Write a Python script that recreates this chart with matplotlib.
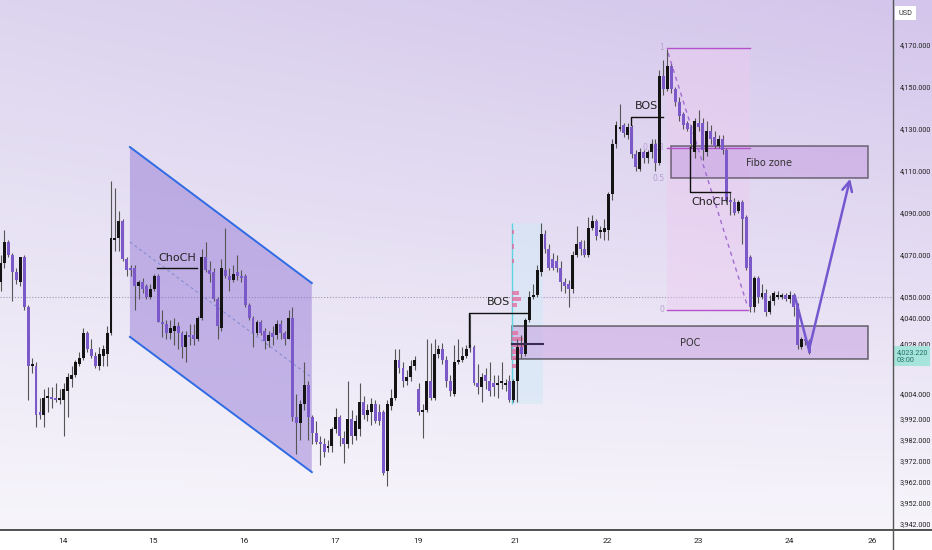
import numpy as np
import matplotlib
matplotlib.use('Agg')
import matplotlib.pyplot as plt
from matplotlib.patches import Polygon, Rectangle
from matplotlib.lines import Line2D
import matplotlib.transforms as mtransforms

#############################################
# hourly candles
opens = [4057, 4066, 4076, 4070, 4062, 4057, 4069, 4045, 4017, 4017,
         3995, 3994, 4002, 4002, 4002, 4001, 4001, 4005, 4011, 4013,
         4018, 4021, 4033, 4025, 4022, 4017, 4022, 4023, 4033, 4077,
         4078, 4086, 4068, 4064, 4064, 4055, 4057, 4055, 4050, 4054,
         4060, 4038, 4037, 4033, 4034, 4036, 4033, 4026, 4032, 4032,
         4030, 4040, 4069, 4063, 4062, 4049, 4035, 4063, 4060, 4058,
         4062, 4060, 4060, 4046, 4040, 4033, 4038, 4034, 4029, 4033,
         4032, 4037, 4033, 4030, 4040, 3993, 3990, 3999, 4008, 3993,
         3985, 3981, 3980, 3978, 3979, 3987, 3993, 3983, 3980, 3992,
         3984, 3987, 4000, 3994, 3995, 3999, 3995, 3995, 3967, 3998,
         4002, 4020, 4016, 4010, 4012, 4017, 4006, 3995, 3996, 4010,
         4002, 4023, 4025, 4020, 4010, 4004, 4019, 4020, 4022, 4026,
         4026, 4009, 4007, 4013, 4010, 4009, 4008, 4009, 4008, 4010,
         4001, 4010, 4026, 4023, 4039, 4050, 4051, 4062, 4080, 4073,
         4068, 4067, 4064, 4057, 4056, 4054, 4070, 4076, 4073, 4070,
         4083, 4086, 4081, 4081, 4082, 4099, 4123, 4130, 4132, 4127,
         4131, 4118, 4111, 4119, 4116, 4119, 4123, 4114, 4155, 4149,
         4160, 4149, 4143, 4137, 4133, 4131, 4119, 4133, 4133, 4119,
         4129, 4126, 4122, 4125, 4120, 4096, 4095, 4091, 4095, 4088,
         4069, 4045, 4059, 4050, 4052, 4043, 4048, 4050, 4050, 4051,
         4049, 4051, 4046, 4026, 4030, 4029]
highs = [4070, 4082, 4077, 4071, 4064, 4069, 4070, 4046, 4021, 4019,
         4002, 4006, 4007, 4007, 4009, 4006, 4009, 4014, 4017, 4020,
         4024, 4035, 4034, 4030, 4024, 4026, 4027, 4036, 4105, 4102,
         4091, 4087, 4069, 4065, 4065, 4058, 4059, 4056, 4056, 4061,
         4061, 4044, 4039, 4039, 4040, 4038, 4034, 4034, 4037, 4037,
         4041, 4073, 4076, 4067, 4064, 4050, 4068, 4083, 4064, 4065,
         4070, 4063, 4061, 4047, 4041, 4039, 4039, 4035, 4034, 4036,
         4039, 4039, 4034, 4044, 4045, 4004, 4001, 4019, 4010, 3994,
         3991, 3984, 3983, 3982, 3988, 3997, 3994, 3986, 4010, 3996,
         3994, 4009, 4003, 3999, 4002, 4001, 3999, 3996, 4001, 4006,
         4025, 4025, 4019, 4015, 4020, 4022, 4009, 3999, 4030, 4028,
         4030, 4027, 4028, 4022, 4013, 4027, 4030, 4026, 4027, 4042,
         4027, 4018, 4014, 4016, 4019, 4013, 4013, 4019, 4011, 4013,
         4011, 4030, 4032, 4040, 4053, 4056, 4065, 4085, 4082, 4075,
         4071, 4070, 4067, 4059, 4058, 4072, 4084, 4077, 4077, 4088,
         4089, 4087, 4084, 4087, 4100, 4125, 4134, 4142, 4133, 4133,
         4132, 4120, 4121, 4120, 4120, 4125, 4125, 4158, 4163, 4168,
         4161, 4150, 4145, 4138, 4134, 4132, 4135, 4139, 4135, 4134,
         4132, 4129, 4127, 4127, 4121, 4100, 4097, 4096, 4096, 4089,
         4070, 4060, 4060, 4056, 4054, 4051, 4053, 4053, 4052, 4052,
         4053, 4052, 4047, 4031, 4031, 4030]
lows = [4053, 4064, 4069, 4048, 4056, 4055, 4044, 4001, 4014, 3988,
        3992, 3988, 3995, 3997, 4000, 3999, 3984, 3993, 4007, 4012,
        4017, 4020, 4024, 4021, 4016, 4015, 4017, 4017, 4032, 4072,
        4072, 4067, 4060, 4060, 4044, 4049, 4052, 4049, 4049, 4053,
        4038, 4031, 4030, 4030, 4027, 4025, 4021, 4019, 4027, 4027,
        4029, 4039, 4062, 4057, 4048, 4030, 4034, 4059, 4053, 4057,
        4058, 4057, 4045, 4039, 4026, 4032, 4032, 4025, 4026, 4027,
        4030, 4030, 4027, 4030, 3991, 3975, 3982, 3996, 3982, 3980,
        3980, 3970, 3974, 3976, 3976, 3985, 3979, 3971, 3978, 3980,
        3982, 3984, 3992, 3991, 3989, 3990, 3989, 3965, 3960, 3996,
        4001, 4014, 4007, 4008, 4010, 4015, 3994, 3983, 3995, 4001,
        4001, 4021, 4018, 4007, 4003, 4003, 4018, 4019, 4021, 4024,
        4008, 4004, 4000, 4006, 4003, 4003, 4002, 4006, 4005, 4000,
        4000, 4000, 4021, 4022, 4038, 4049, 4050, 4060, 4071, 4063,
        4063, 4062, 4053, 4052, 4045, 4052, 4069, 4070, 4069, 4069,
        4082, 4077, 4078, 4077, 4077, 4096, 4121, 4129, 4126, 4125,
        4116, 4110, 4110, 4114, 4114, 4116, 4110, 4113, 4146, 4148,
        4147, 4141, 4134, 4130, 4129, 4121, 4116, 4129, 4115, 4117,
        4123, 4121, 4121, 4118, 4095, 4089, 4089, 4090, 4075, 4063,
        4043, 4043, 4047, 4049, 4041, 4042, 4046, 4049, 4049, 4048,
        4047, 4041, 4025, 4025, 4027, 4023]
closes = [4066, 4076, 4070, 4062, 4058, 4069, 4045, 4017, 4018, 3994,
          3994, 4002, 4002.5, 4001.5, 4001, 4001.5, 4006, 4012, 4013, 4019,
          4021, 4033, 4025, 4022, 4017, 4023, 4025, 4033, 4078, 4078,
          4086, 4068, 4063, 4063, 4055, 4057, 4054, 4050, 4054, 4060,
          4038, 4037, 4033, 4035, 4036, 4033, 4026, 4032, 4031, 4030,
          4040, 4069, 4063, 4061, 4049, 4036, 4064, 4060, 4058, 4061,
          4060, 4059, 4046, 4040, 4033, 4038, 4033, 4029, 4032, 4031,
          4037, 4033, 4030, 4040, 3993, 3990, 3999, 4008, 3993, 3985,
          3981, 3980, 3976, 3979, 3987, 3993, 3984, 3980, 3992, 3984,
          3991, 4000, 3994, 3996, 3999, 3991, 3991, 3966, 3999, 4002,
          4020, 4016, 4010, 4012, 4017, 4020, 3995, 3996, 4010, 4002,
          4023, 4025, 4020, 4010, 4005, 4019, 4020, 4022, 4025, 4027,
          4009, 4007, 4012, 4010, 4005, 4007, 4009, 4010, 4009, 4001,
          4010, 4026, 4023, 4039, 4050, 4051, 4063, 4080, 4073, 4064,
          4064, 4064, 4057, 4055, 4054, 4070, 4075, 4073, 4070, 4083,
          4086, 4079, 4082, 4083, 4099, 4123, 4132, 4131, 4128, 4131,
          4118, 4112, 4119, 4116, 4119, 4123, 4114, 4155, 4149, 4160,
          4149, 4143, 4136, 4132, 4130, 4123, 4134, 4131, 4120, 4129,
          4125, 4122, 4125, 4120, 4096, 4095, 4090, 4095, 4087, 4064,
          4045, 4059, 4050, 4052, 4043, 4048, 4052, 4051, 4051, 4049,
          4051, 4045, 4027, 4030, 4029, 4023.22]

day_pos = [15.8, 38.6, 61.7, 84.8, 105.8, 130.6, 153.7, 176.8, 199.8, 220.9]
day_labels = ['14', '15', '16', '17', '19', '21', '22', '23', '24', '26']
price_ticks = [4170, 4150, 4130, 4110, 4090, 4070, 4050, 4040, 4028,
               4004, 3992, 3982, 3972, 3962, 3952, 3942]
last_price = 4023.22
#############################################

UP = '#141414'
DOWN = '#7b59c9'
TICK_FONT = ['Roboto', 'DejaVu Sans']

fig = plt.figure(figsize=(9.32, 5.5), dpi=100)
fig.patch.set_facecolor('white')

# background gradient (chart + price scale)
bg = fig.add_axes([0, 20 / 550, 1, 530 / 550], zorder=0)
top_l = np.array([221, 213, 239]) / 255.
top_r = np.array([211, 197, 235]) / 255.
bot = np.array([247, 245, 251]) / 255.
ny, nx = 200, 100
t = np.linspace(0, 1, ny)[:, None, None]
s = np.linspace(0, 1, nx)[None, :, None]
top = top_l * (1 - s) + top_r * s
img = top * (1 - t) + bot * t
bg.imshow(img, aspect='auto', extent=[0, 1, 0, 1], origin='upper')
bg.set_axis_off()

ax = fig.add_axes([0, 20 / 550, 893 / 932, 530 / 550], zorder=1)
ax.set_facecolor('none')
ax.set_xlim(-0.13, 226.2)
ax.set_ylim(3939.05, 4191.4)

x = np.arange(len(closes))
o = np.array(opens, float)
c = np.array(closes, float)
h = np.maximum(np.array(highs, float), np.maximum(o, c))
l = np.minimum(np.array(lows, float), np.minimum(o, c))
up = c >= o
cols = np.where(up, UP, DOWN)
body_lo = np.minimum(o, c)
body_h = np.maximum(np.abs(c - o), 0.7)

# dotted reference line
ax.axhline(4050, color='#9c98ad', lw=0.8, ls=(0, (1, 1.6)), zorder=1.5)

# descending channel
chan = Polygon([(32.8, 4121.4), (78.9, 4056.6), (78.9, 3966.6), (32.8, 4031.0)],
               closed=True, fc='#8c6ed2', alpha=0.45, ec='none', zorder=2)
ax.add_patch(chan)
ax.plot([32.8, 78.9], [4121.4, 4056.6], color='#2f6be3', lw=1.4, zorder=5)
ax.plot([32.8, 78.9], [4031.0, 3966.6], color='#2f6be3', lw=1.4, zorder=5)
ax.plot([32.8, 78.9], [4076.2, 4011.6], color='#6f7fc9', lw=0.7, ls=(0, (3, 3)), alpha=0.8, zorder=3)

# fibonacci area
ax.add_patch(Rectangle((168.9, 4043.8), 21.1, 124.8, fc='#efc9f0', alpha=0.4, ec='none', zorder=2))
ax.plot([169, 190], [4168.6, 4168.6], color='#b452cc', lw=1, zorder=3)
ax.plot([169, 190], [4121.0, 4121.0], color='#b452cc', lw=1, zorder=3)
ax.plot([169, 189.4], [4043.8, 4043.8], color='#b452cc', lw=1, zorder=3)
ax.plot([169.2, 189.4], [4166.2, 4045.2], color='#a06cd0', lw=1, ls=(0, (3, 3)), zorder=3)
for lab, yy in [('1', 4168.6), ('0.618', 4121.0), ('0.5', 4106.4), ('0', 4043.8)]:
    ax.text(168.2, yy, lab, ha='right', va='center', fontsize=5.5, color='#b79fd2', zorder=3)

# fibo zone
ax.add_patch(Rectangle((170, 4106.6), 49.9, 15.3, fc='#c39be0', alpha=0.5,
                       ec='#111111', lw=1.2, zorder=2))
ax.text(194.8, 4113.8, 'Fibo zone', ha='center', va='center', fontsize=7, color='#333333', zorder=6)

# volume profile near day 21
ax.add_patch(Rectangle((129.6, 3999), 7.9, 86, fc='#d3e8f6', alpha=0.6, ec='none', zorder=2))
ax.vlines(129.6, 3999, 4085, color='#5fd3e0', lw=1.0, zorder=3)
vp_prices = [4081, 4074, 4067, 4052, 4049, 4046, 4033, 4030, 4027, 4024, 4021, 4017]
vp_widths = [0.5, 0.5, 0.5, 1.8, 2.2, 1.2, 1.4, 2.6, 3.0, 2.4, 1.4, 0.9]
ax.barh(vp_prices, vp_widths, left=129.7, height=2.0, color='#e4679c', alpha=0.75, zorder=3)

# POC
ax.add_patch(Rectangle((129.6, 4020.5), 90.3, 15.7, fc='#c7a2e0', alpha=0.55,
                       ec='#111111', lw=1.2, zorder=2))
ax.plot([129.6, 137.5], [4027.6, 4027.6], color='#3b2b55', lw=1.5, zorder=5)
ax.text(174.7, 4028.1, 'POC', ha='center', va='center', fontsize=7, color='#333333', zorder=6)

# candles
ax.vlines(x, l, h, colors='#555555', lw=0.8, zorder=3.5)
ax.bar(x, body_h, bottom=body_lo, width=0.74, color=cols, lw=0, zorder=4)

# structure marks
ax.plot([39.7, 49.8], [4063.8, 4063.8], color='#111111', lw=1, zorder=5)
ax.text(44.7, 4068.6, 'ChoCH', ha='center', va='center', fontsize=8, color='#222222', zorder=6)

ax.plot([118.7, 118.7, 133.7], [4026, 4042.4, 4042.4], color='#111111', lw=1, zorder=5)
ax.text(126.3, 4047.6, 'BOS', ha='center', va='center', fontsize=8, color='#222222', zorder=6)

ax.plot([159.8, 159.8, 167.9], [4131.9, 4135.7, 4135.7], color='#111111', lw=1, zorder=5)
ax.text(163.8, 4140.9, 'BOS', ha='center', va='center', fontsize=8, color='#222222', zorder=6)

ax.plot([174.7, 174.7, 184.9], [4121.4, 4100, 4100], color='#111111', lw=1, zorder=5)
ax.text(179.8, 4095.2, 'ChoCH', ha='center', va='center', fontsize=8, color='#222222', zorder=6)

# projection
ax.plot([201.3, 204.9], [4050.5, 4024.8], color='#7558d0', lw=1.8, zorder=6)
ax.annotate('', xy=(215.5, 4107.6), xytext=(204.9, 4024.8),
            arrowprops=dict(arrowstyle='->,head_length=0.7,head_width=0.35',
                            color='#7558d0', lw=1.8), zorder=6)

# axes styling
for sp in ax.spines.values():
    sp.set_visible(False)
ax.set_xticks(day_pos)
ax.set_xticklabels(day_labels, family=TICK_FONT)
ax.yaxis.tick_right()
ax.set_yticks(price_ticks)
ax.set_yticklabels([f'{v:,.3f}' for v in price_ticks], family=TICK_FONT)
ax.tick_params(axis='y', length=0, pad=5, labelsize=5.2, colors='#222222')
ax.tick_params(axis='x', length=0, pad=6, labelsize=6, colors='#222222')

trans = mtransforms.blended_transform_factory(ax.transAxes, ax.transData)
ax.text(1.004, last_price - 1.5, f'{last_price:,.3f}\n03:00', transform=trans, ha='left', va='center',
        fontsize=5.2, family=TICK_FONT, color='#1d6f66', linespacing=1.15, clip_on=False, zorder=10,
        bbox=dict(boxstyle='square,pad=0.35', fc='#a7e4db', ec='none'))

fig.text(0.9715, 0.976, 'USD', ha='center', va='center', fontsize=5.2, family=TICK_FONT,
         color='#333333', bbox=dict(boxstyle='square,pad=0.5', fc='white', ec='none'))

fig.add_artist(Line2D([0, 1], [20 / 550, 20 / 550], color='#333333', lw=1.2))
fig.add_artist(Line2D([893 / 932, 893 / 932], [0, 1], color='#555555', lw=1.0))

fig.savefig('out.png', dpi=100)
